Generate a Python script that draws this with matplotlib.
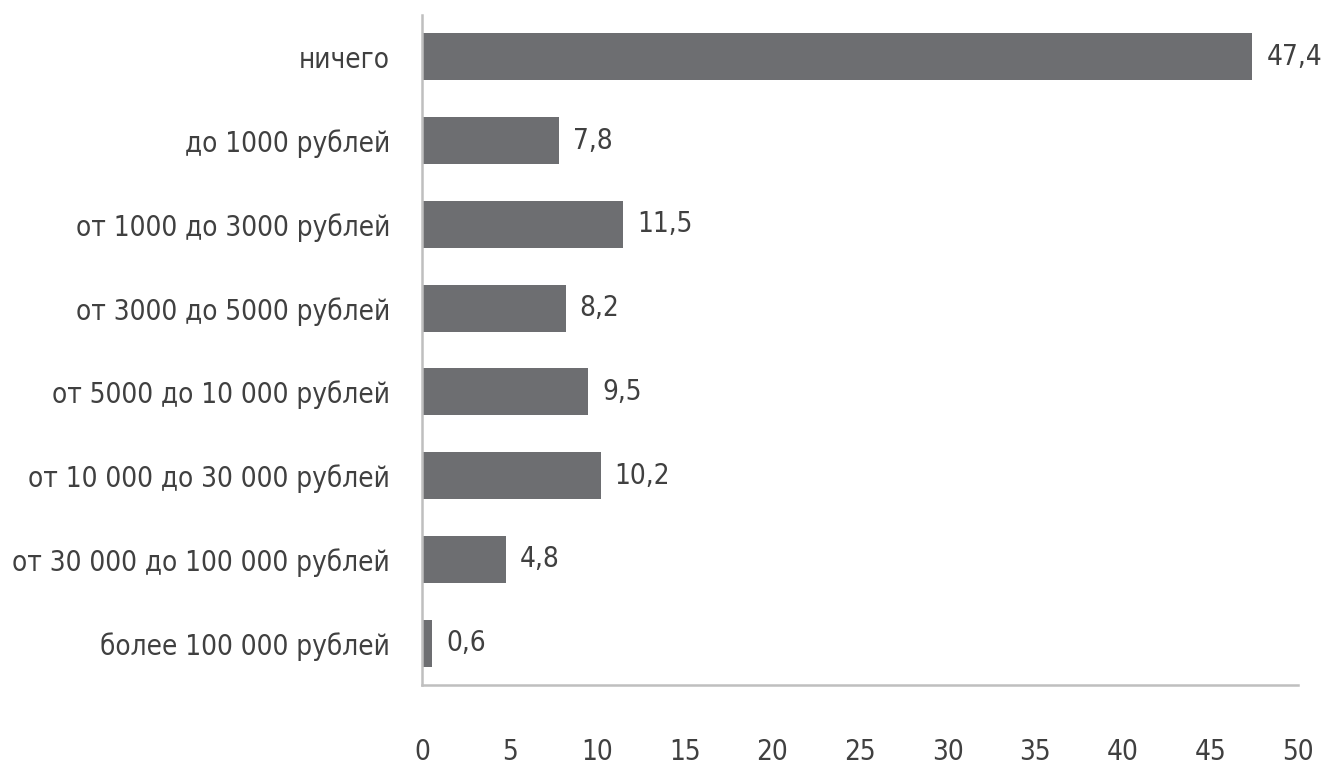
import matplotlib
matplotlib.use('Agg')
import matplotlib.pyplot as plt
from matplotlib import font_manager

# ищем узкий шрифт с кириллицей
narrow = None
for f in font_manager.fontManager.ttflist:
    fn = f.fname.lower()
    if ('narrow' in fn or 'condensed' in fn) and 'bold' not in fn and 'italic' not in fn \
            and 'oblique' not in fn and 'light' not in fn:
        if narrow is None or 'liberation' in fn:
            narrow = f

label_size = 20
if narrow is not None:
    matplotlib.rcParams['font.family'] = [narrow.name, 'DejaVu Sans']
    matplotlib.rcParams['font.stretch'] = narrow.stretch
else:
    matplotlib.rcParams['font.family'] = ['Liberation Sans', 'DejaVu Sans']
    label_size = 18

# данные
categories = ['ничего', 'до 1000 рублей', 'от 1000 до 3000 рублей',
              'от 3000 до 5000 рублей', 'от 5000 до 10 000 рублей',
              'от 10 000 до 30 000 рублей', 'от 30 000 до 100 000 рублей',
              'более 100 000 рублей']
values = [47.4, 7.8, 11.5, 8.2, 9.5, 10.2, 4.8, 0.6]
x_ticks = [0, 5, 10, 15, 20, 25, 30, 35, 40, 45, 50]

text_color = '#404040'
bar_color = '#6d6e71'
axis_color = '#bfbfbf'

fig = plt.figure(figsize=(13.29, 7.70), dpi=100)
ax = fig.add_axes([0.3175, 0.1104, 0.6592, 0.8701])

pos = list(range(len(categories)))
ax.barh(pos, values, height=0.56, color=bar_color)

for y, v in zip(pos, values):
    ax.annotate(f'{v:.1f}'.replace('.', ','), (v, y), xytext=(10, 0),
                textcoords='offset points', va='center', ha='left',
                fontsize=label_size, color=text_color)

ax.set_ylim(len(categories) - 0.5, -0.5)
ax.set_xlim(0, 50)
ax.set_yticks(pos)
ax.set_yticklabels(categories)
ax.set_xticks(x_ticks)

ax.tick_params(axis='both', length=0, labelsize=label_size, colors=text_color)
ax.tick_params(axis='x', pad=38)
ax.tick_params(axis='y', pad=23)

for side in ['top', 'right']:
    ax.spines[side].set_visible(False)
for side in ['left', 'bottom']:
    ax.spines[side].set_color(axis_color)
    ax.spines[side].set_linewidth(1.8)

plt.savefig('out.png', dpi=100)
